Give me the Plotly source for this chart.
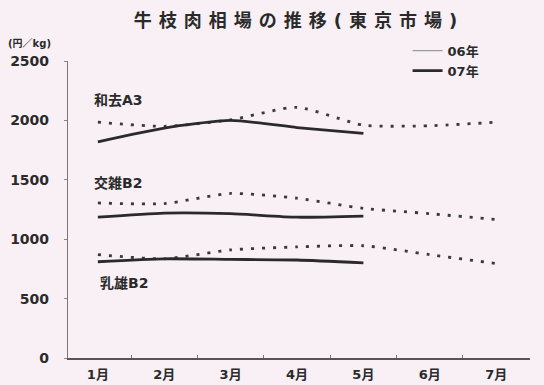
import plotly.graph_objects as go

# Monthly wholesale beef carcass prices, Tokyo market (yen/kg)
months = ["1月", "2月", "3月", "4月", "5月", "6月", "7月"]
wagyu_a3_06 = [1985, 1950, 2005, 2110, 1960, 1955, 1985]
wagyu_a3_07 = [1820, 1935, 2000, 1940, 1890]
cross_b2_06 = [1305, 1300, 1385, 1345, 1260, 1215, 1165]
cross_b2_07 = [1185, 1220, 1215, 1185, 1195]
dairy_b2_06 = [870, 835, 910, 935, 945, 870, 795]
dairy_b2_07 = [810, 835, 830, 825, 800]
grade_labels = ["和去A3", "交雑B2", "乳雄B2"]
grade_label_y = [2170, 1475, 630]
y_ticks = [0, 500, 1000, 1500, 2000, 2500]

FONT = "DejaVu Sans, Noto Sans CJK JP, sans-serif"
INK = "#2a2a2a"
BG = "#f8f0f5"

fig = go.Figure()

series_06 = [wagyu_a3_06, cross_b2_06, dairy_b2_06]
series_07 = [wagyu_a3_07, cross_b2_07, dairy_b2_07]

for vals in series_06:
    fig.add_trace(go.Scatter(
        x=months[:len(vals)], y=vals, mode="lines", showlegend=False,
        line=dict(color="#3a3a3a", width=2.8, dash="3px,8px",
                  shape="spline", smoothing=0.6),
        hoverinfo="skip"))

for vals in series_07:
    fig.add_trace(go.Scatter(
        x=months[:len(vals)], y=vals, mode="lines", showlegend=False,
        line=dict(color=INK, width=2.8, shape="spline", smoothing=0.6),
        hoverinfo="skip"))

# legend keys
fig.add_trace(go.Scatter(x=[None], y=[None], mode="lines", name="06年",
                         line=dict(color="#9a9a9a", width=1.2)))
fig.add_trace(go.Scatter(x=[None], y=[None], mode="lines", name="07年",
                         line=dict(color=INK, width=2.6)))

for text, yv in zip(grade_labels, grade_label_y):
    fig.add_annotation(x=months[0], y=yv, text=text, showarrow=False,
                       xanchor="left", yanchor="middle",
                       xshift=-6 if text != "乳雄B2" else 0,
                       font=dict(family=FONT, size=14, color=INK, weight="bold"))

fig.add_annotation(xref="paper", yref="paper", x=-0.135, y=1.058,
                   xanchor="left", yanchor="middle", text="(円／kg)",
                   showarrow=False,
                   font=dict(family=FONT, size=10, color=INK, weight="bold"))

fig.update_layout(
    width=544, height=385,
    margin=dict(l=68, r=14, t=61, b=27),
    paper_bgcolor=BG, plot_bgcolor=BG,
    title=dict(
        text='<span style="letter-spacing:7px">牛枝肉相場の推移(東京市場)</span>',
        x=0.5, xref="paper", xanchor="center", y=0.945, yanchor="middle",
        font=dict(family=FONT, size=18, color=INK, weight="bold")),
    legend=dict(x=0.735, y=1.085, xanchor="left", yanchor="top",
                bgcolor="rgba(0,0,0,0)", tracegroupgap=0,
                font=dict(family=FONT, size=13, color=INK, weight="bold"),
                itemwidth=30),
    xaxis=dict(type="category", categoryorder="array", categoryarray=months,
               range=[-0.45, 6.51], showgrid=False, zeroline=False,
               showline=True, linecolor="#555", linewidth=1.5,
               ticks="inside", tickson="boundaries", ticklen=3,
               tickcolor="#777", ticklabelstandoff=4, automargin=False,
               tickfont=dict(family=FONT, size=13, color=INK, weight="bold")),
    yaxis=dict(range=[0, 2500], tickvals=y_ticks, showgrid=False,
               zeroline=False, showline=True, linecolor="#777", linewidth=1.2,
               ticks="outside", ticklen=3, tickcolor="#888",
               ticklabelstandoff=12, automargin=False,
               tickfont=dict(family=FONT, size=14, color=INK, weight="bold")),
)

fig.write_html("out.html")
